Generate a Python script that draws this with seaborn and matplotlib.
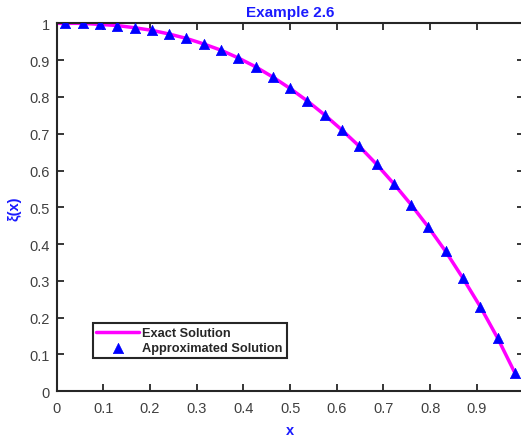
import matplotlib
matplotlib.use("Agg")
import matplotlib.pyplot as plt
import seaborn as sns
import pandas as pd

# Data
x_approx = [0.0185, 0.0556, 0.0926, 0.1296, 0.1667, 0.2037, 0.2407, 0.2778, 0.3148,
            0.3519, 0.3889, 0.4259, 0.4630, 0.5000, 0.5370, 0.5741, 0.6111, 0.6481,
            0.6852, 0.7222, 0.7593, 0.7963, 0.8333, 0.8704, 0.9074, 0.9444, 0.9815]
y_approx = [1.000, 1.000, 0.997, 0.994, 0.988, 0.981, 0.971, 0.959, 0.944,
            0.927, 0.906, 0.882, 0.854, 0.823, 0.789, 0.751, 0.710, 0.666,
            0.617, 0.564, 0.507, 0.446, 0.380, 0.307, 0.230, 0.145, 0.050]
x_exact = [0.0] + x_approx
y_exact = [1.0] + y_approx

title = "Example 2.6"
xlabel = "x"
ylabel = "\u03be(x)"
labels = ["Exact Solution", "Approximated Solution"]
xticks = [0, 0.1, 0.2, 0.3, 0.4, 0.5, 0.6, 0.7, 0.8, 0.9, 1]
yticks = [0, 0.1, 0.2, 0.3, 0.4, 0.5, 0.6, 0.7, 0.8, 0.9, 1]

sns.set_style("ticks")
plt.rcParams['font.family'] = ['Liberation Sans', 'DejaVu Sans']

fig = plt.figure(figsize=(5.21, 4.39), dpi=100)
ax = fig.add_axes([0.1088, 0.1064, 0.8960, 0.8382])

df_e = pd.DataFrame({"x": x_exact, "y": y_exact})
df_a = pd.DataFrame({"x": x_approx, "y": y_approx})
sns.lineplot(data=df_e, x="x", y="y", ax=ax, color="#ff00ff", linewidth=2.5,
             label=labels[0], sort=False)
sns.scatterplot(data=df_a, x="x", y="y", ax=ax, color="#0000ff", marker="^",
                s=55, edgecolor="#0000ff", linewidth=0.5, label=labels[1], zorder=3)

ax.set_xlim(0, 1)
ax.set_ylim(0, 1)
ax.set_xticks(xticks)
ax.set_yticks(yticks)
ax.set_xticklabels([("%g" % t) for t in xticks])
ax.set_yticklabels([("%g" % t) for t in yticks])
ax.tick_params(direction="in", length=5, width=1.3, top=True, right=True,
               labelsize=10.5, colors="#262626", labelcolor="#404040")
ax.tick_params(axis="x", pad=7)
ax.tick_params(axis="y", pad=5)
for sp in ax.spines.values():
    sp.set_visible(True)
    sp.set_linewidth(1.5)
    sp.set_color("#262626")

ax.set_title(title, color="#1a1aff", fontweight="bold", fontsize=11, pad=5)
ax.set_xlabel(xlabel, color="#1a1aff", fontweight="bold", fontsize=10.5, labelpad=6)
ax.set_ylabel(ylabel, color="#1a1aff", fontweight="bold", fontsize=10.5, labelpad=6)

leg = ax.legend(loc="lower left", bbox_to_anchor=(0.077, 0.09), frameon=True,
                fancybox=False, edgecolor="#262626", framealpha=1,
                prop={"weight": "bold", "size": 9.2}, handlelength=3.3,
                handletextpad=0.3, borderpad=0.3, labelspacing=0.25,
                borderaxespad=0)
leg.get_frame().set_linewidth(1.5)

fig.savefig("out.png", dpi=100)
